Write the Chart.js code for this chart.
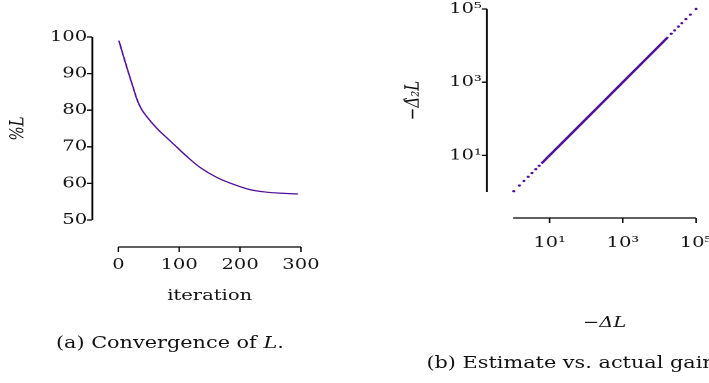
<!DOCTYPE html>
<html>
<head>
<meta charset="utf-8">
<script src="https://cdn.jsdelivr.net/npm/chart.js@4.4.1/dist/chart.umd.min.js"></script>
<style>
  html, body { margin: 0; padding: 0; background: #fff; }
  body { width: 709px; height: 383px; overflow: hidden; position: relative; }
  /* the figure is drawn narrow and stretched sideways, like the reference */
  #wrap { position: absolute; left: 0; top: 0; width: 546px; height: 383px; transform: scaleX(1.3); transform-origin: 0 0; }
  canvas { position: absolute; top: 0; }
  #left { left: 0; }
  #right { left: 272px; }
  .cap { position: absolute; font-family: "DejaVu Serif", serif; font-size: 16px; line-height: 20px; color: #111; white-space: nowrap; }
</style>
</head>
<body>
<div id="wrap">
  <canvas id="left" width="272" height="383"></canvas>
  <canvas id="right" width="330" height="383"></canvas>
  <div class="cap" style="left:43px; top:333px;">(a) Convergence of <i>L</i>.</div>
  <div class="cap" style="left:328px; top:353px;">(b) Estimate vs. actual gain.</div>
</div>
<script>
// (a) convergence of L
const iterations = [1, 8, 16, 24, 31, 38, 47, 63, 80, 91, 113, 134, 162, 185, 216, 244, 270, 295];
const percentL = [99.0, 95.0, 90.6, 86.4, 82.8, 80.3, 78.2, 75.1, 72.4, 70.7, 67.3, 64.4, 61.6, 60.0, 58.3, 57.6, 57.3, 57.1];
const iterTicks = [0, 100, 200, 300];
const pctTicks = [50, 60, 70, 80, 90, 100];

// (b) estimate vs actual gain (log-log)
const lowX = [1.05, 1.5, 2.0, 2.6, 3.3, 4.2, 5.2];
const lowY = [1.05, 1.5, 2.0, 2.6, 3.3, 4.2, 5.2];
const midX = [6, 10, 30, 100, 300, 1000, 3000, 10000, 17000];
const midY = [6, 10, 30, 100, 300, 1000, 3000, 10000, 17000];
const highX = [21000, 26000, 33000, 41000, 53000, 70000, 100000];
const highY = [21000, 26000, 33000, 41000, 53000, 70000, 100000];
const logTicks = [10, 1000, 100000];
const logLabels = ['10¹', '10³', '10⁵'];

const purple = 'rgb(78, 14, 150)';
const serif = '"DejaVu Serif", serif';

// offset spines (axis lines detached from the data area)
const spines = {
  id: 'spines',
  afterDraw(chart, args, opts) {
    const { ctx, chartArea, scales } = chart;
    const xs = scales.x, ys = scales.y;
    ctx.save();
    ctx.strokeStyle = '#000';
    const sx = chartArea.left - opts.gapY;
    ctx.lineWidth = 1.4;
    ctx.beginPath();
    ctx.moveTo(sx, ys.getPixelForValue(ys.min));
    ctx.lineTo(sx, ys.getPixelForValue(ys.max));
    ctx.stroke();
    ctx.lineWidth = 1.3;
    ctx.beginPath();
    ys.ticks.forEach(t => {
      const p = ys.getPixelForValue(t.value);
      ctx.moveTo(sx, p);
      ctx.lineTo(sx - 4, p);
    });
    const sy = chartArea.bottom + opts.gapX;
    ctx.moveTo(xs.getPixelForValue(xs.min), sy);
    ctx.lineTo(xs.getPixelForValue(xs.max), sy);
    ctx.stroke();
    ctx.lineWidth = 1.1;
    ctx.beginPath();
    xs.ticks.forEach(t => {
      const p = xs.getPixelForValue(t.value);
      ctx.moveTo(p, sy);
      ctx.lineTo(p, sy + 5);
    });
    ctx.stroke();
    ctx.restore();
  }
};

const tickFont = { family: serif, size: 15 };
const mathFont = { family: serif, size: 15, style: 'italic' };
const noPadX = s => { s.paddingLeft = 0; s.paddingRight = 0; };
const noPadY = s => { s.paddingTop = 0; s.paddingBottom = 0; };

new Chart(document.getElementById('left'), {
  type: 'line',
  data: {
    datasets: [{
      data: iterations.map((it, i) => ({ x: it, y: percentL[i] })),
      borderColor: purple,
      borderWidth: 1.2,
      pointRadius: 0,
      cubicInterpolationMode: 'monotone',
      clip: false
    }]
  },
  options: {
    responsive: false,
    animation: false,
    devicePixelRatio: 2,
    layout: { padding: { left: 0, top: 37, right: 40.5, bottom: 0 } },
    plugins: { legend: { display: false }, tooltip: { enabled: false }, spines: { gapX: 27, gapY: 20 } },
    scales: {
      x: {
        type: 'linear', min: 0, max: 300,
        afterBuildTicks: s => { s.ticks = iterTicks.map(v => ({ value: v })); },
        grid: { display: false, drawTicks: false },
        border: { display: false },
        ticks: { font: tickFont, color: '#111', padding: 36, maxRotation: 0 },
        title: { display: true, text: 'iteration', font: tickFont, color: '#111', padding: { top: 0, bottom: 78 } },
        afterFit: s => { s.height = 163; noPadX(s); }
      },
      y: {
        type: 'linear', min: 50, max: 100,
        afterBuildTicks: s => { s.ticks = pctTicks.map(v => ({ value: v })); },
        grid: { display: false, drawTicks: false },
        border: { display: false },
        ticks: { font: tickFont, color: '#111', padding: 24 },
        title: { display: true, text: '%L', font: mathFont, color: '#111', padding: { top: 5, bottom: 0 } },
        afterFit: s => { s.width = 91; noPadY(s); }
      }
    }
  },
  plugins: [spines]
});

const dotStyle = { showLine: false, pointRadius: 1.2, pointBorderWidth: 0, pointBackgroundColor: purple, clip: false };

new Chart(document.getElementById('right'), {
  type: 'scatter',
  data: {
    datasets: [
      Object.assign({ data: lowX.map((v, i) => ({ x: v, y: lowY[i] })) }, dotStyle),
      {
        data: midX.map((v, i) => ({ x: v, y: midY[i] })),
        showLine: true, borderColor: purple, borderWidth: 2.1, pointRadius: 0, clip: false
      },
      Object.assign({ data: highX.map((v, i) => ({ x: v, y: highY[i] })) }, dotStyle)
    ]
  },
  options: {
    responsive: false,
    animation: false,
    devicePixelRatio: 2,
    layout: { padding: { left: 0, top: 9, right: 66.6, bottom: 0 } },
    plugins: { legend: { display: false }, tooltip: { enabled: false }, spines: { gapX: 26, gapY: 20 } },
    scales: {
      x: {
        type: 'logarithmic', min: 1, max: 100000,
        afterBuildTicks: s => { s.ticks = logTicks.map(v => ({ value: v })); },
        grid: { display: false, drawTicks: false },
        border: { display: false },
        ticks: { font: tickFont, color: '#111', padding: 42, maxRotation: 0, callback: v => logLabels[logTicks.indexOf(v)] },
        title: { display: true, text: '−ΔL', font: mathFont, color: '#111', padding: { top: 0, bottom: 51 } },
        afterFit: s => { s.height = 191; noPadX(s); }
      },
      y: {
        type: 'logarithmic', min: 1, max: 100000,
        afterBuildTicks: s => { s.ticks = logTicks.map(v => ({ value: v })); },
        grid: { display: false, drawTicks: false },
        border: { display: false },
        ticks: { font: tickFont, color: '#111', padding: 24, callback: v => logLabels[logTicks.indexOf(v)] },
        title: { display: true, text: '−Δ̂₂L', font: mathFont, color: '#111', padding: { top: 37, bottom: 0 } },
        afterFit: s => { s.width = 122.6; noPadY(s); }
      }
    }
  },
  plugins: [spines]
});
</script>
</body>
</html>
